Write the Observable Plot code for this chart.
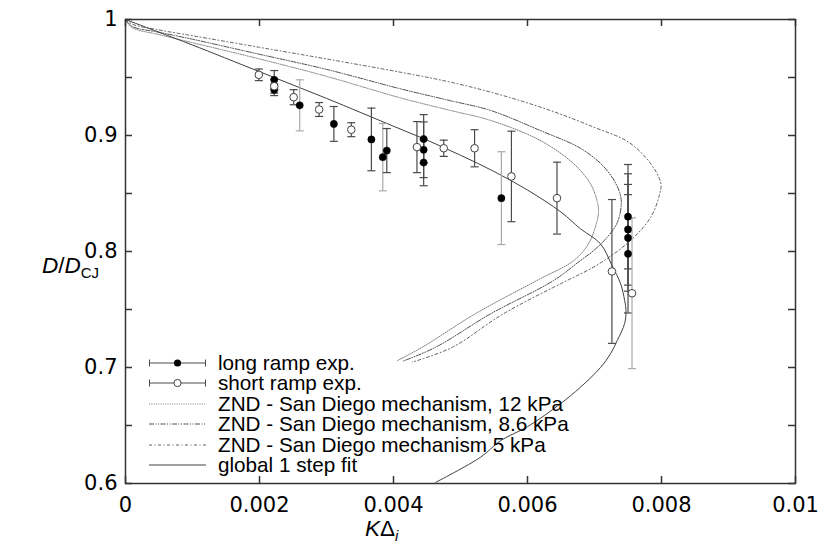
<!DOCTYPE html>
<html><head><meta charset="utf-8">
<script src="https://cdn.jsdelivr.net/npm/d3@7"></script>
<script src="https://cdn.jsdelivr.net/npm/@observablehq/plot@0.6"></script>
<style>
body{margin:0;background:#fff;}
#wrap{position:relative;width:824px;height:556px;font-family:"Liberation Sans",Arial,sans-serif;color:#000;}
#wrap svg.plot{position:absolute;left:0;top:0;}
.lab{position:absolute;white-space:nowrap;font-size:22.5px;line-height:1;}
.lab sub{font-size:15px;vertical-align:-5px;line-height:1;}
.leg{position:absolute;left:149px;height:20px;line-height:20px;display:flex;align-items:center;font-size:20.7px;white-space:nowrap;}
.leg span{display:block;height:20px;line-height:20px;}
.leg svg{width:57px;height:20px;margin-right:12px;flex:none;}
</style></head><body><div id="wrap"></div>
<script>
// axis ticks and labels
const xTicks = [0, 0.002, 0.004, 0.006, 0.008, 0.01];
const xTickLabels = ["0", "0.002", "0.004", "0.006", "0.008", "0.01"];
const yTicks = [0.6, 0.7, 0.8, 0.9, 1];
const yTickLabels = ["0.6", "0.7", "0.8", "0.9", "1"];
const yAllTicks = [0.6, 0.65, 0.7, 0.75, 0.8, 0.85, 0.9, 0.95, 1];

// long ramp experiments (filled): K*Delta, D/DCJ, error, bar group
const longK   = [0.00222, 0.00222, 0.0026, 0.00311, 0.00367, 0.00384, 0.0039, 0.00445, 0.00445, 0.00445, 0.00561, 0.0075, 0.0075, 0.0075, 0.0075];
const longD   = [0.948, 0.9394, 0.926, 0.910, 0.8966, 0.8813, 0.887, 0.897, 0.8877, 0.8767, 0.846, 0.830, 0.819, 0.8118, 0.798];
const longErr = [0.008, 0.005, 0.022, 0.015, 0.027, 0.029, 0.019, 0.021, 0.024, 0.020, 0.040, 0.045, 0.048, 0.046, 0.051];
const longGrp = [1, 1, 2, 1, 1, 2, 1, 1, 1, 1, 2, 1, 1, 1, 1];

// short ramp experiments (open)
const shortK   = [0.00199, 0.00222, 0.00251, 0.00289, 0.00337, 0.00435, 0.00475, 0.00521, 0.00576, 0.00644, 0.00726, 0.00756];
const shortD   = [0.9523, 0.9425, 0.933, 0.9224, 0.905, 0.890, 0.889, 0.889, 0.8647, 0.846, 0.7828, 0.764];
const shortErr = [0.005, 0.006, 0.0065, 0.006, 0.006, 0.022, 0.007, 0.016, 0.039, 0.031, 0.062, 0.065];
const shortGrp = [1, 1, 1, 1, 1, 1, 1, 1, 1, 1, 1, 2];

// ZND curves [K*Delta, D/DCJ]
const znd12 = [[0,1.0],[0.0001,0.993],[0.0005,0.987],[0.001,0.980],[0.002,0.966],[0.003,0.951],[0.0041,0.9325],[0.00485,0.9216],[0.00545,0.913],[0.00619,0.8957],[0.00669,0.8756],[0.00694,0.8584],[0.00704,0.8433],[0.00706,0.835],[0.00704,0.8267],[0.00691,0.8066],[0.00669,0.7922],[0.00614,0.775],[0.00522,0.7463],[0.00443,0.7175],[0.00406,0.706]];
const znd86 = [[0,1.0],[0.0001,0.994],[0.0005,0.989],[0.001,0.983],[0.002,0.970],[0.003,0.957],[0.0041,0.9403],[0.00485,0.930],[0.00545,0.9216],[0.00619,0.9043],[0.00679,0.889],[0.00714,0.873],[0.00734,0.856],[0.0074,0.843],[0.00734,0.825],[0.00719,0.8123],[0.00699,0.8009],[0.00679,0.7922],[0.00639,0.775],[0.00545,0.7463],[0.00463,0.7175],[0.00413,0.7052]];
const znd5 = [[0,1.0],[0.0001,0.996],[0.0005,0.991],[0.001,0.986],[0.002,0.976],[0.003,0.966],[0.0041,0.9546],[0.00485,0.946],[0.0056,0.935],[0.00634,0.9216],[0.00699,0.9072],[0.00751,0.8942],[0.00784,0.8756],[0.00799,0.8584],[0.00796,0.8468],[0.00784,0.8296],[0.00759,0.8123],[0.00729,0.798],[0.00694,0.785],[0.00659,0.775],[0.00564,0.7463],[0.00488,0.7175],[0.00428,0.7046]];
// global 1-step fit
const fit = [[0,1.0],[0.0005,0.989],[0.001,0.978],[0.002,0.955],[0.003,0.932],[0.004,0.908],[0.0045,0.896],[0.005,0.883],[0.0055,0.869],[0.006,0.853],[0.0065,0.834],[0.00679,0.8196],[0.00709,0.8066],[0.00726,0.788],[0.00739,0.7722],[0.00745,0.7578],[0.00747,0.749],[0.00745,0.738],[0.00734,0.7233],[0.00724,0.712],[0.00709,0.70],[0.00679,0.683],[0.00649,0.6687],[0.0060,0.649],[0.0056,0.637],[0.0053,0.6227],[0.00463,0.601]];

const legendLabels = ["long ramp exp.", "short ramp exp.", "ZND - San Diego mechanism, 12 kPa", "ZND - San Diego mechanism, 8.6 kPa", "ZND - San Diego mechanism 5 kPa", "global 1 step fit"];

const longData = longK.map((k, i) => ({K: k, D: longD[i], e: longErr[i], g: longGrp[i]}));
const shortData = shortK.map((k, i) => ({K: k, D: shortD[i], e: shortErr[i], g: shortGrp[i]}));
const pts = a => a.map(([K, D]) => ({K, D}));

const W = 824, H = 556, mL = 125, mR = 29, mT = 19, mB = 73;
const pw = W - mL - mR, ph = H - mT - mB, tl = 7;
const barColor = d => d.g === 2 ? "#a9a9a9" : "#4a4a4a";
const cap = {draw(ctx, size) { const w = Math.sqrt(size / Math.PI); ctx.moveTo(-w, 0); ctx.lineTo(w, 0); }};

const errMarks = data => [
  Plot.ruleX(data, {x: "K", y1: d => d.D - d.e, y2: d => d.D + d.e, stroke: barColor, strokeWidth: 1.2}),
  Plot.dot(data, {x: "K", y: d => d.D + d.e, symbol: cap, r: 4, fill: "none", stroke: barColor, strokeWidth: 1.2}),
  Plot.dot(data, {x: "K", y: d => d.D - d.e, symbol: cap, r: 4, fill: "none", stroke: barColor, strokeWidth: 1.2})
];

const chart = Plot.plot({
  width: W, height: H,
  marginLeft: mL, marginRight: mR, marginTop: mT, marginBottom: mB,
  style: {fontFamily: "DejaVu Sans", fontSize: "21px", background: "white"},
  x: {domain: [0, 0.01], axis: null},
  y: {domain: [0.6, 1.0], axis: null},
  marks: [
    Plot.line(pts(znd12), {x: "K", y: "D", curve: "catmull-rom", stroke: "#7a7a7a", strokeWidth: 1, strokeDasharray: "1,1.3"}),
    Plot.line(pts(znd86), {x: "K", y: "D", curve: "catmull-rom", stroke: "#505050", strokeWidth: 1, strokeDasharray: "5,1.5,1,1.5,1,1.5"}),
    Plot.line(pts(znd5), {x: "K", y: "D", curve: "catmull-rom", stroke: "#606060", strokeWidth: 1, strokeDasharray: "3,2.5,1,2.5"}),
    Plot.line(pts(fit), {x: "K", y: "D", curve: "catmull-rom", stroke: "#404040", strokeWidth: 1}),
    ...errMarks(longData),
    ...errMarks(shortData),
    Plot.dot(longData, {x: "K", y: "D", r: 3.6, fill: "#000", stroke: "#000", strokeWidth: 0.5}),
    Plot.dot(shortData, {x: "K", y: "D", r: 3.8, fill: "#fff", stroke: "#444", strokeWidth: 1}),
    Plot.tickX(xTicks, {x: d => d, insetTop: ph - tl, stroke: "#333", strokeWidth: 1.5}),
    Plot.tickX(xTicks, {x: d => d, insetBottom: ph - tl, stroke: "#333", strokeWidth: 1.5}),
    Plot.tickY(yAllTicks, {y: d => d, insetRight: pw - tl, stroke: "#333", strokeWidth: 1.5}),
    Plot.tickY(yAllTicks, {y: d => d, insetLeft: pw - tl, stroke: "#333", strokeWidth: 1.5}),
    Plot.frame({stroke: "#333", strokeWidth: 1.5}),
    Plot.axisX({ticks: xTicks, tickSize: 0, tickPadding: 14, tickFormat: d => xTickLabels[xTicks.indexOf(d)], fontSize: 21, fontFamily: "DejaVu Sans", label: null}),
    Plot.axisY({ticks: yTicks, tickSize: 0, tickPadding: 8, tickFormat: d => yTickLabels[yTicks.indexOf(d)], fontSize: 21, fontFamily: "DejaVu Sans", label: null})
  ]
});
chart.classList.add("plot");
const wrap = document.getElementById("wrap");
wrap.appendChild(chart);

// axis titles
const yl = document.createElement("div");
yl.className = "lab"; yl.style.left = "42px"; yl.style.top = "255px";
yl.innerHTML = "<i>D</i>/<i>D</i><sub>CJ</sub>";
wrap.appendChild(yl);
const xl = document.createElement("div");
xl.className = "lab"; xl.style.left = "365px"; xl.style.top = "518px";
xl.innerHTML = "<i>K</i>Δ<sub><i>i</i></sub>";
wrap.appendChild(xl);

// legend
const samples = [
  `<line x1="0.5" y1="10" x2="56.5" y2="10" stroke="#4a4a4a"/><line x1="0.5" y1="6.5" x2="0.5" y2="13.5" stroke="#4a4a4a"/><line x1="56.5" y1="6.5" x2="56.5" y2="13.5" stroke="#4a4a4a"/><circle cx="28.5" cy="10" r="3.6" fill="#000"/>`,
  `<line x1="0.5" y1="10" x2="56.5" y2="10" stroke="#4a4a4a"/><line x1="0.5" y1="6.5" x2="0.5" y2="13.5" stroke="#4a4a4a"/><line x1="56.5" y1="6.5" x2="56.5" y2="13.5" stroke="#4a4a4a"/><circle cx="28.5" cy="10" r="3.6" fill="#fff" stroke="#444"/>`,
  `<line x1="0" y1="10" x2="57" y2="10" stroke="#7a7a7a" stroke-dasharray="1,1.3"/>`,
  `<line x1="0" y1="10" x2="57" y2="10" stroke="#505050" stroke-dasharray="5,1.5,1,1.5,1,1.5"/>`,
  `<line x1="0" y1="10" x2="57" y2="10" stroke="#606060" stroke-dasharray="3,2.5,1,2.5"/>`,
  `<line x1="0" y1="10" x2="57" y2="10" stroke="#404040"/>`
];
legendLabels.forEach((t, i) => {
  const row = document.createElement("div");
  row.className = "leg";
  row.style.top = (353 + i * 20.4) + "px";
  row.innerHTML = `<svg viewBox="0 0 57 20">${samples[i]}</svg><span>${t}</span>`;
  wrap.appendChild(row);
});
</script></body></html>
